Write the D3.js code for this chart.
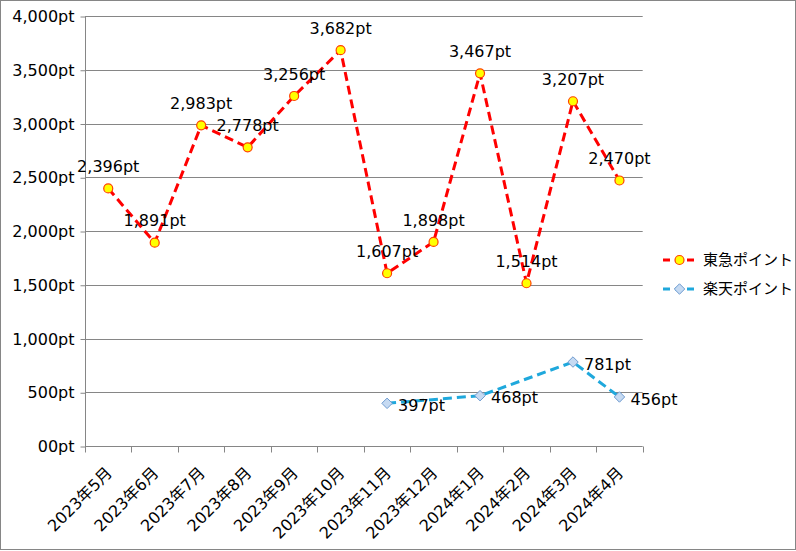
<!DOCTYPE html>
<html><head><meta charset="utf-8">
<script src="https://cdn.jsdelivr.net/npm/d3@7"></script>
<style>
body{margin:0;background:#fff;}
text{font-family:"DejaVu Sans","Noto Sans CJK JP",sans-serif;fill:#000;}
</style></head>
<body><svg id="c" width="796" height="551"></svg>
<script>
const months = ["2023年5月","2023年6月","2023年7月","2023年8月","2023年9月","2023年10月","2023年11月","2023年12月","2024年1月","2024年2月","2024年3月","2024年4月"];
const tokyuValues = [2396,1891,2983,2778,3256,3682,1607,1898,3467,1514,3207,2470];
const rakutenValues = [null,null,null,null,null,null,397,null,468,null,781,456];
const yTicks = [0,500,1000,1500,2000,2500,3000,3500,4000];
const seriesNames = ["東急ポイント","楽天ポイント"];

const svg = d3.select("#c");
const fmt = d3.format(",");
svg.append("rect").attr("x",0.5).attr("y",0.5).attr("width",795).attr("height",549)
  .attr("fill","#fff").attr("stroke","#868686");

const L=85, R=642.7, T=16, B=446;
const x = d3.scaleBand().domain(months).range([L,R]);
const y = d3.scaleLinear().domain([0,4000]).range([B,T]);
const cx = m => x(m)+x.bandwidth()/2;

// gridlines
svg.append("g").selectAll("line").data(yTicks.filter(d=>d>0)).join("line")
  .attr("x1",L).attr("x2",R).attr("y1",d=>Math.round(y(d))+0.5).attr("y2",d=>Math.round(y(d))+0.5)
  .attr("stroke","#868686").attr("stroke-width",1);

// y axis
const yAxis = d3.axisLeft(y).tickValues(yTicks).tickSize(5).tickPadding(6)
  .tickFormat(d=> d===0 ? "00pt" : fmt(d)+"pt");
const gy = svg.append("g").attr("transform",`translate(${L+0.5},0.5)`).call(yAxis);
gy.select(".domain").attr("stroke","#868686").attr("d",`M0,${B-0.5}V${T-0.5}`);
gy.selectAll(".tick line").attr("stroke","#868686");
gy.selectAll(".tick text").attr("font-size",16).attr("fill","#000").style("font-family",'"DejaVu Sans","Noto Sans CJK JP",sans-serif');

// x axis
const xAxis = d3.axisBottom(x).tickSize(0).tickFormat("");
const gx = svg.append("g").attr("transform",`translate(0,${B+0.5})`).call(xAxis);
gx.select(".domain").attr("stroke","#868686").attr("d",`M${L},0H${R}`);
gx.selectAll(".tick").remove();
const bounds = months.map(m=>x(m)).concat([R]);
gx.selectAll("line.t").data(bounds).join("line").attr("class","t")
  .attr("x1",d=>Math.round(d)+0.5).attr("x2",d=>Math.round(d)+0.5).attr("y1",0).attr("y2",6)
  .attr("stroke","#868686");
svg.append("g").selectAll("text").data(months).join("text")
  .attr("transform",d=>`translate(${cx(d)-3},${B+20}) rotate(-45)`)
  .attr("text-anchor","end").attr("dy","0.7em").attr("font-size",16).text(d=>d);

// tokyu line
const lineT = d3.line().x((d,i)=>cx(months[i])).y(d=>y(d));
svg.append("path").datum(tokyuValues).attr("d",lineT).attr("fill","none")
  .attr("stroke","#FF0000").attr("stroke-width",3).attr("stroke-dasharray","9,5");

// rakuten line (connect across gaps)
const rk = rakutenValues.map((v,i)=>({v,m:months[i]})).filter(d=>d.v!=null);
const lineR = d3.line().x(d=>cx(d.m)).y(d=>y(d.v));
svg.append("path").datum(rk).attr("d",lineR).attr("fill","none")
  .attr("stroke","#1FA8DC").attr("stroke-width",3).attr("stroke-dasharray","9,5");

// markers
svg.append("g").selectAll("circle").data(tokyuValues).join("circle")
  .attr("cx",(d,i)=>cx(months[i])).attr("cy",d=>y(d)).attr("r",4.5)
  .attr("fill","#FFFF00").attr("stroke","#FF4000").attr("stroke-width",1.2);
const diamond = d3.symbol().type(d3.symbolDiamond2).size(70);
svg.append("g").selectAll("path").data(rk).join("path")
  .attr("transform",d=>`translate(${cx(d.m)},${y(d.v)})`)
  .attr("d",diamond).attr("fill","#C6DAF2").attr("stroke","#6E9BD0").attr("stroke-width",1);

// tokyu labels
svg.append("g").selectAll("text").data(tokyuValues).join("text")
  .attr("x",(d,i)=>cx(months[i])).attr("y",d=>y(d)-22)
  .attr("dy","0.35em").attr("text-anchor","middle").attr("font-size",16)
  .text(d=>fmt(d)+"pt");
// rakuten labels
svg.append("g").selectAll("text").data(rk).join("text")
  .attr("x",d=>cx(d.m)+11).attr("y",d=>y(d.v)+2)
  .attr("dy","0.35em").attr("text-anchor","start").attr("font-size",16)
  .text(d=>fmt(d.v)+"pt");

// legend
const lg = svg.append("g").attr("transform","translate(663,260)");
[0,1].forEach(i=>{
  const g = lg.append("g").attr("transform",`translate(0,${i*29})`);
  g.append("line").attr("x1",0).attr("x2",33).attr("y1",0).attr("y2",0)
    .attr("stroke",i===0?"#FF0000":"#1FA8DC").attr("stroke-width",3).attr("stroke-dasharray","7,5");
  if(i===0) g.append("circle").attr("cx",16.5).attr("cy",0).attr("r",4.5).attr("fill","#FFFF00").attr("stroke","#FF4000").attr("stroke-width",1.2);
  else g.append("path").attr("transform","translate(16.5,0)").attr("d",diamond).attr("fill","#C6DAF2").attr("stroke","#6E9BD0");
  g.append("text").attr("x",40).attr("y",0).attr("dy","0.35em").attr("font-size",15).text(seriesNames[i]);
});
</script></body></html>
